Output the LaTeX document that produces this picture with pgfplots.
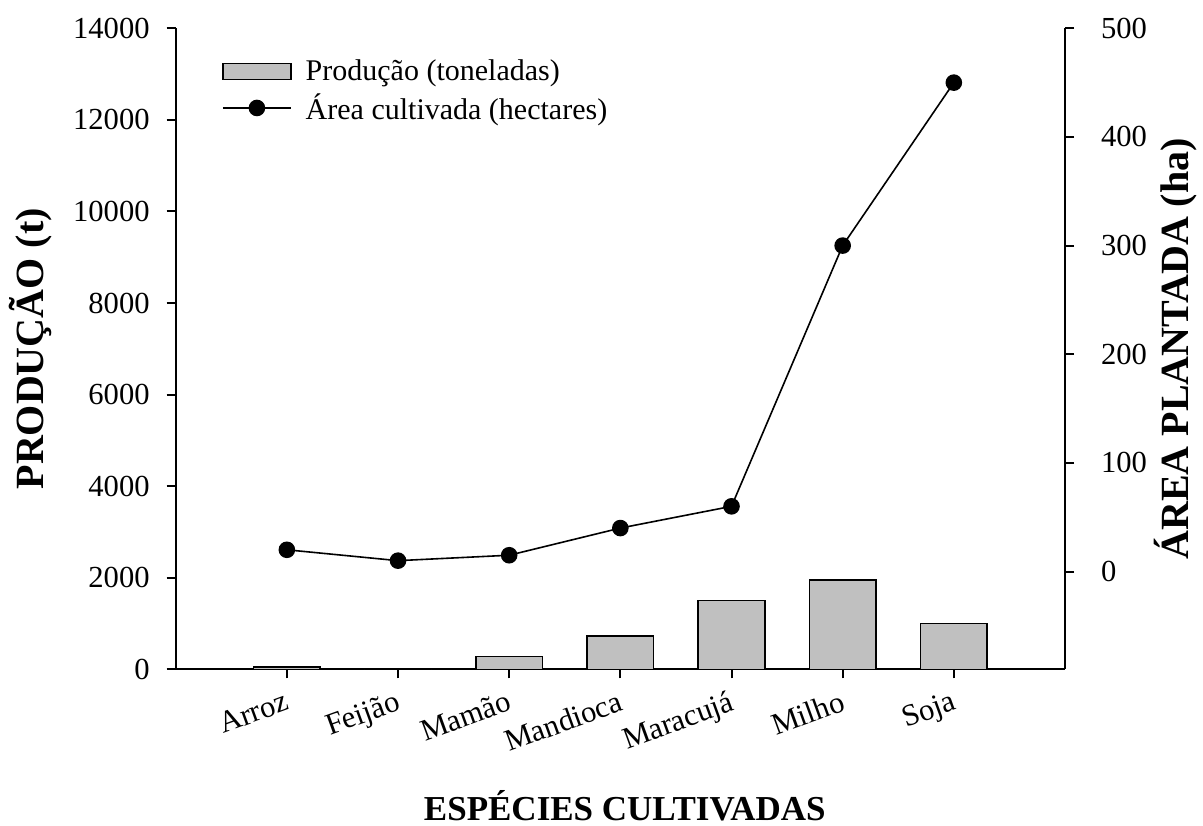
\documentclass[border=0pt]{standalone}
\usepackage{fontspec}
\setmainfont{Liberation Serif}
\usepackage{pgfplots}
\usepackage{pgfplotstable}
\pgfplotsset{compat=1.18}
\definecolor{barfill}{RGB}{192,192,192}
\pgfplotsset{
  mylineleg/.style={legend image code/.code={\draw[mark repeat=2,mark phase=2,##1] plot coordinates {(0pt,0pt) (17pt,0pt) (34pt,0pt)};}},
  mybarleg/.style={legend image code/.code={\draw[fill=barfill, draw=black, line width=0.75pt] (0pt,-4pt) rectangle (34pt,4pt);}},
}
\pgfplotstableread{
x prod
0 50
1 0
2 280
3 730
4 1500
5 1950
6 1000
}\prodtable
\pgfplotstableread{
x area
0 20
1 10
2 15
3 40
4 60
5 300
6 450
}\areatable
\begin{document}
\begin{tikzpicture}
\path[use as bounding box] (-87.85pt,-77.85pt) rectangle (513.65pt,334.65pt);
\begin{axis}[
  scale only axis, width=444.65pt, height=320.5pt,
  xmin=-1, xmax=7, ymin=0, ymax=14000,
  axis x line*=bottom, axis y line*=left,
  axis line style={-, line width=1pt},
  tick align=outside, major tick length=4.5pt,
  tick style={line width=1pt, black},
  xtick={0,...,6},
  xticklabels={Arroz,Feijão,Mamão,Mandioca,Maracujá,Milho,Soja},
  ytick={0,2000,...,14000},
  scaled y ticks=false,
  /pgf/number format/.cd, fixed, 1000 sep={}, assume math mode=true, /pgfplots/.cd,
  tick label style={font=\fontsize{15.3}{18}\selectfont},
  y tick label style={xshift=-5pt},
  x tick label style={rotate=20, anchor=north east, yshift=-1.5pt},
  ylabel={\bfseries PRODUÇÃO (t)},
  ylabel style={font=\fontsize{20}{24}\selectfont, at={(axis description cs:-0.1627,0.5)}, anchor=center, rotate=0},
  xlabel={\bfseries ESPÉCIES CULTIVADAS},
  xlabel style={font=\fontsize{17.5}{21}\selectfont, at={(axis description cs:0.505,-0.2355)}, anchor=base},
]
\addplot[ybar, bar width=0.6, bar shift=0pt, fill=barfill, draw=black, line width=0.75pt] table[x=x, y=prod] {\prodtable};
\end{axis}
\begin{axis}[
  scale only axis, width=444.65pt, height=320.5pt,
  xmin=-1, xmax=7, ymin=-90, ymax=500,
  axis x line=none, axis y line*=right,
  axis line style={-, line width=1pt},
  tick align=outside, major tick length=4.5pt,
  tick style={line width=1pt, black},
  ytick={0,100,...,500},
  /pgf/number format/.cd, fixed, 1000 sep={}, assume math mode=true, /pgfplots/.cd,
  tick label style={font=\fontsize{15.3}{18}\selectfont},
  y tick label style={xshift=10pt},
  ylabel={\bfseries ÁREA PLANTADA (ha)},
  ylabel style={font=\fontsize{20}{24}\selectfont, at={(axis description cs:1.1248,0.5)}, anchor=center, rotate=0},
  legend style={draw=none, fill=none, at={(axis description cs:0.045,0.964)}, anchor=north west, font=\fontsize{15}{18}\selectfont, row sep=1pt,
    /tikz/every odd column/.append style={column sep=5pt}},
  legend cell align=left,
]
\addlegendimage{mybarleg}
\addlegendentry{Produção (toneladas)}
\addplot[black, line width=0.8pt, mark=*, mark size=3.75pt, mark options={solid}, mylineleg]
  table[x=x, y=area] {\areatable};
\addlegendentry{Área cultivada (hectares)}
\end{axis}
\end{tikzpicture}
\end{document}
